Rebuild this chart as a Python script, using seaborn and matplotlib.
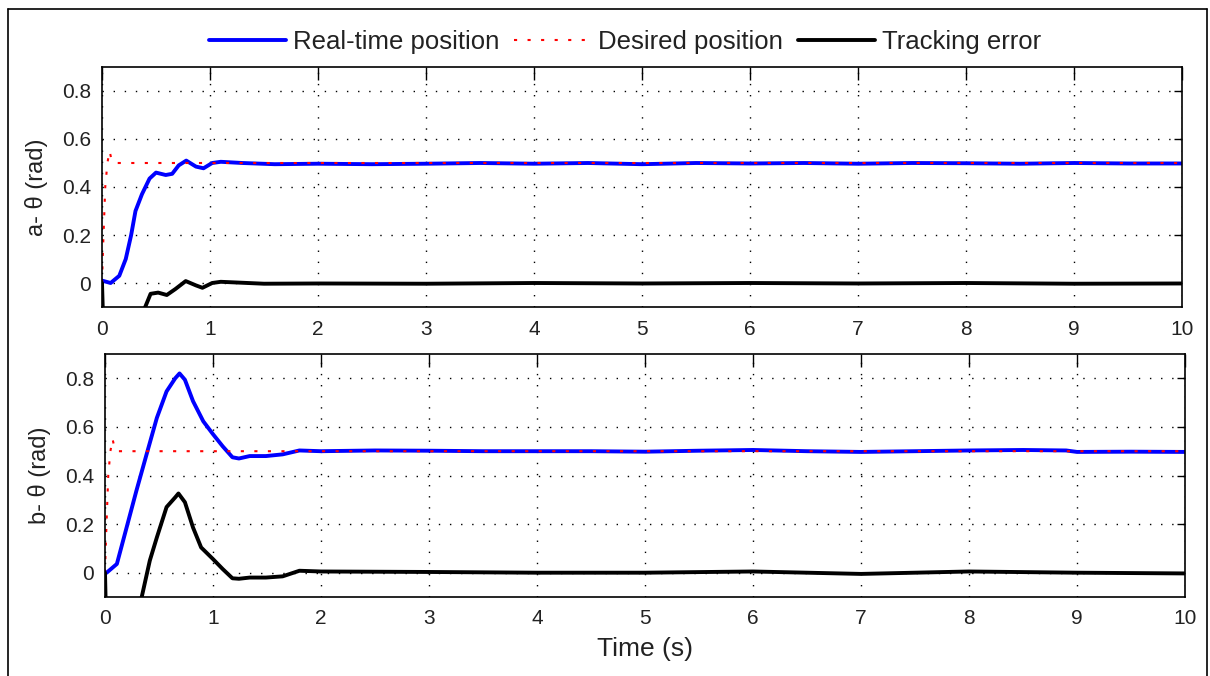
import matplotlib
matplotlib.use("Agg")
import matplotlib.pyplot as plt
import seaborn as sns
import pandas as pd
from matplotlib.lines import Line2D

# desired position (same reference in both tests)
t_des = [0, 0.01, 0.03, 0.05, 0.07, 0.09, 0.12, 10]
des = [0, 0.15, 0.40, 0.50, 0.55, 0.51, 0.50, 0.50]

# test a: real-time position
t_a = [0, 0.08, 0.16, 0.22, 0.27, 0.31, 0.37, 0.44, 0.50, 0.59, 0.65, 0.71, 0.78, 0.87, 0.94,
       1.02, 1.10, 1.3, 1.6, 2.0, 2.5, 3.0, 3.5, 4.0, 4.5, 5.0, 5.5, 6.0, 6.5, 7.0, 7.5, 8.0,
       8.5, 9.0, 9.5, 10.0]
pos_a = [0.01, 0.0, 0.03, 0.10, 0.20, 0.30, 0.37, 0.435, 0.46, 0.45, 0.455, 0.49, 0.51, 0.485, 0.478,
         0.50, 0.505, 0.50, 0.495, 0.497, 0.495, 0.497, 0.50, 0.497, 0.50, 0.495, 0.50, 0.498, 0.50,
         0.497, 0.50, 0.499, 0.497, 0.50, 0.498, 0.498]

# test a: tracking error
te_a = [0, 0.01, 0.03, 0.07, 0.10, 0.16, 0.22, 0.27, 0.31, 0.37, 0.40, 0.45, 0.52, 0.60, 0.68,
        0.775, 0.87, 0.93, 1.02, 1.10, 1.5, 2.0, 3.0, 4.0, 5.0, 6.0, 7.0, 8.0, 9.0, 10.0]
err_a = [0, -0.15, -0.40, -0.55, -0.50, -0.47, -0.40, -0.30, -0.20, -0.13, -0.10, -0.045, -0.04,
         -0.05, -0.025, 0.008, -0.01, -0.02, 0.0, 0.005, -0.003, -0.002, -0.003, 0.0, -0.002,
         0.0, -0.002, 0.0, -0.003, -0.002]

# test b: real-time position
t_b = [0, 0.015, 0.11, 0.20, 0.29, 0.385, 0.48, 0.57, 0.65, 0.69, 0.74, 0.815, 0.91, 1.0, 1.09,
       1.18, 1.24, 1.34, 1.49, 1.645, 1.8, 2.0, 2.5, 3.0, 3.5, 4.0, 4.5, 5.0, 5.5, 6.0, 6.5, 7.0,
       7.5, 8.0, 8.5, 8.9, 9.0, 9.5, 10.0]
pos_b = [0.0, 0.0, 0.036, 0.186, 0.336, 0.487, 0.637, 0.746, 0.80, 0.82, 0.794, 0.706, 0.623, 0.57,
         0.52, 0.475, 0.47, 0.48, 0.48, 0.487, 0.503, 0.50, 0.503, 0.502, 0.50, 0.50, 0.50, 0.498,
         0.502, 0.505, 0.50, 0.497, 0.50, 0.503, 0.505, 0.503, 0.497, 0.498, 0.497]

# test b: tracking error
te_b = [0, 0.01, 0.05, 0.07, 0.10, 0.20, 0.29, 0.34, 0.415, 0.48, 0.57, 0.65, 0.68, 0.74, 0.815,
        0.89, 1.0, 1.09, 1.18, 1.24, 1.34, 1.49, 1.645, 1.8, 2.0, 3.0, 4.0, 5.0, 6.0, 7.0, 8.0,
        9.0, 10.0]
err_b = [0, -0.2, -0.5, -0.55, -0.47, -0.31, -0.16, -0.10, 0.05, 0.145, 0.27, 0.31, 0.326, 0.29,
         0.186, 0.104, 0.056, 0.015, -0.023, -0.025, -0.02, -0.02, -0.015, 0.008, 0.005, 0.003,
         0.0, 0.0, 0.005, -0.005, 0.005, 0.0, -0.003]

x_ticks = list(range(0, 11))
y_ticks = [0, 0.2, 0.4, 0.6, 0.8]
y_ticklabels = ["0", "0.2", "0.4", "0.6", "0.8"]

sns.set_theme(style="white")
plt.rcParams["font.family"] = ["Liberation Sans", "DejaVu Sans"]

fig = plt.figure(figsize=(12.1, 6.76), dpi=100)
ax_a = fig.add_axes([102 / 1210, 1 - 307 / 676, 1080 / 1210, 240 / 676])
ax_b = fig.add_axes([105 / 1210, 1 - 597 / 676, 1080 / 1210, 243 / 676])

panels = [
    (ax_a, t_a, pos_a, te_a, err_a, "a- θ (rad)"),
    (ax_b, t_b, pos_b, te_b, err_b, "b- θ (rad)"),
]

for ax, t, pos, te, err, ylab in panels:
    ax.grid(True, color="black", linestyle=(0, (1, 7)), linewidth=1.0)
    sns.lineplot(x=t, y=pos, ax=ax, color="#0000ff", linewidth=2.8,
                 estimator=None, sort=False, label="Real-time position")
    sns.lineplot(x=t_des, y=des, ax=ax, color="#ff0000", linewidth=1.5,
                 linestyle=(0, (1.5, 5)), estimator=None, sort=False, label="Desired position")
    sns.lineplot(x=te, y=err, ax=ax, color="black", linewidth=2.8,
                 estimator=None, sort=False, label="Tracking error")
    ax.set_xlim(0, 10)
    ax.set_ylim(-0.1, 0.9)
    ax.set_xticks(x_ticks)
    ax.set_yticks(y_ticks)
    ax.set_yticklabels(y_ticklabels)
    ax.set_ylabel(ylab, fontsize=17, labelpad=10, color="#222222")
    ax.tick_params(axis="both", which="major", direction="in", top=True, right=True,
                   labelsize=15, colors="black", labelcolor="#222222", width=1.0)
    ax.tick_params(axis="x", length=9, pad=9)
    ax.tick_params(axis="y", length=6, pad=8)
    for sp in ax.spines.values():
        sp.set_visible(True)
        sp.set_color("black")
        sp.set_linewidth(1.2)
    ax.get_legend().remove()

ax_b.set_xlabel("Time (s)", fontsize=19, labelpad=6, color="#222222")

handles, labels = ax_a.get_legend_handles_labels()
leg = fig.legend(handles, labels, loc="center", bbox_to_anchor=(625 / 1210, 1 - 42 / 676), ncol=3,
                 frameon=False, fontsize=18.5, handlelength=3.0, handletextpad=0.25,
                 columnspacing=0.6)
for txt in leg.get_texts():
    txt.set_color("#222222")

# outer frame of the figure
x0, x1, y1 = 8 / 1210, 1207 / 1210, 1 - 9 / 676
for xs, ys in [([x0, x0], [-0.1, y1]), ([x0, x1], [y1, y1]), ([x1, x1], [y1, -0.1])]:
    fig.add_artist(Line2D(xs, ys, transform=fig.transFigure, color="black", linewidth=1.2))

fig.savefig("out.png", dpi=100)
